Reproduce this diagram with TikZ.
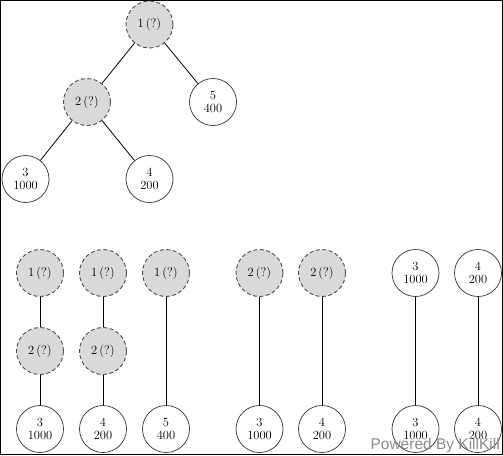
\documentclass[tikz,border=0pt]{standalone}
\usepackage{fontspec}
\newfontfamily\wmfont{Liberation Sans}
\begin{document}
\begin{tikzpicture}[x=1pt,y=-1pt,
  every node/.style={font=\fontsize{12.5}{13.5}\selectfont, align=center},
  qnode/.style={circle, draw=black!70, dash pattern=on 4pt off 2.5pt, fill=black!15, minimum size=47pt, inner sep=0pt, line width=0.9pt},
  leaf/.style={circle, draw=black!80, fill=white, minimum size=47pt, inner sep=0pt, line width=0.7pt},
  edge/.style={draw=black, line width=0.8pt}]
\useasboundingbox (0,0) rectangle (503,455);
\draw[line width=1pt] (0.5,0.5) rectangle (502.5,454);
% top tree
\node[qnode] (t1) at (149.5,24.5) {1\,(?)};
\node[qnode] (t2) at (87,102) {2\,(?)};
\node[leaf] (t5) at (213,102) {5\\400};
\node[leaf] (t3) at (25.5,179) {3\\1000};
\node[leaf] (t4) at (149.5,179) {4\\200};
\draw[edge] (t1) -- (t2);
\draw[edge] (t1) -- (t5);
\draw[edge] (t2) -- (t3);
\draw[edge] (t2) -- (t4);
% bottom paths
\node[qnode] (a1) at (40,273) {1\,(?)};
\node[qnode] (a2) at (40,351) {2\,(?)};
\node[leaf] (a3) at (40,429) {3\\1000};
\draw[edge] (a1) -- (a2);
\draw[edge] (a2) -- (a3);
\node[qnode] (b1) at (103,273) {1\,(?)};
\node[qnode] (b2) at (103,351) {2\,(?)};
\node[leaf] (b3) at (103,429) {4\\200};
\draw[edge] (b1) -- (b2);
\draw[edge] (b2) -- (b3);
\node[qnode] (c1) at (166,273) {1\,(?)};
\node[leaf] (c3) at (166,429) {5\\400};
\draw[edge] (c1) -- (c3);
\node[qnode] (d1) at (259.5,273) {2\,(?)};
\node[leaf] (d3) at (259.5,429) {3\\1000};
\draw[edge] (d1) -- (d3);
\node[qnode] (e1) at (322,273) {2\,(?)};
\node[leaf] (e3) at (322,429) {4\\200};
\draw[edge] (e1) -- (e3);
\node[leaf] (f1) at (415.5,273) {3\\1000};
\node[leaf] (f3) at (415.5,429) {3\\1000};
\draw[edge] (f1) -- (f3);
\node[leaf] (g1) at (478,273) {4\\200};
\node[leaf] (g3) at (478,429) {4\\200};
\draw[edge] (g1) -- (g3);
% watermark
\node[anchor=base east, font=\wmfont\fontsize{15.5}{16}\selectfont, text=black!45, inner sep=0pt] (wm) at (500,449) {Powered By KillKill};
\end{tikzpicture}
\end{document}
